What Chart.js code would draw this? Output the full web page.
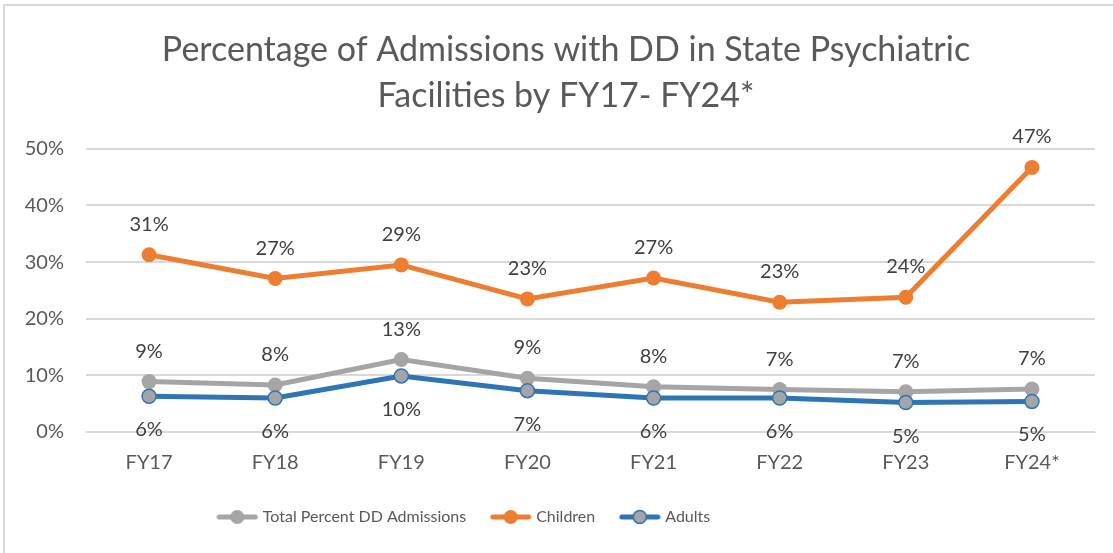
<!DOCTYPE html>
<html>
<head>
<meta charset="utf-8">
<script src="https://cdn.jsdelivr.net/npm/chart.js@4.4.0/dist/chart.umd.min.js"></script>
<style>
  html, body { margin: 0; padding: 0; background: #ffffff; }
  #wrap { width: 1113px; height: 553px; position: relative; }
</style>
</head>
<body>
<div id="wrap"><canvas id="c" width="1113" height="553"></canvas></div>
<script>
const categories = ["FY17", "FY18", "FY19", "FY20", "FY21", "FY22", "FY23", "FY24*"];
const totalValues = [8.9, 8.3, 12.8, 9.5, 8.0, 7.5, 7.1, 7.6];
const childrenValues = [31.3, 27.1, 29.5, 23.5, 27.2, 22.9, 23.8, 46.7];
const adultsValues = [6.3, 6.0, 9.9, 7.3, 6.0, 6.0, 5.2, 5.4];
const totalLabels = ["9%", "8%", "13%", "9%", "8%", "7%", "7%", "7%"];
const childrenLabels = ["31%", "27%", "29%", "23%", "27%", "23%", "24%", "47%"];
const adultsLabels = ["6%", "6%", "10%", "7%", "6%", "6%", "5%", "5%"];
const yTicks = [0, 10, 20, 30, 40, 50];

const FONT = "Lato, 'Open Sans', 'Liberation Sans', sans-serif";
const GRAY = "#a5a5a5", ORANGE = "#ed7d31", BLUE = "#2e75b6";

function legendIcon(lineColor, fill, border) {
  const cv = document.createElement("canvas");
  cv.width = 42; cv.height = 18;
  const x = cv.getContext("2d");
  x.strokeStyle = lineColor; x.lineWidth = 5; x.lineCap = "round";
  x.beginPath(); x.moveTo(3, 9); x.lineTo(39, 9); x.stroke();
  x.beginPath(); x.arc(21, 9, border ? 6.5 : 7, 0, Math.PI * 2);
  x.fillStyle = fill; x.fill();
  if (border) { x.lineWidth = 1.5; x.strokeStyle = border; x.stroke(); }
  return cv;
}
const icons = [legendIcon(GRAY, GRAY), legendIcon(ORANGE, ORANGE), legendIcon(BLUE, GRAY, BLUE)];

const labelPlugin = {
  id: "valueLabels",
  afterDatasetsDraw(chart) {
    const ctx = chart.ctx;
    ctx.save();
    ctx.font = "20px " + FONT;
    ctx.fillStyle = "#404040";
    ctx.textAlign = "center";
    ctx.textBaseline = "alphabetic";
    const sets = [[0, totalLabels, -24], [1, childrenLabels, -24], [2, adultsLabels, 40]];
    sets.forEach(([di, labs, dy]) => {
      const meta = chart.getDatasetMeta(di);
      meta.data.forEach((pt, i) => {
        ctx.fillText(labs[i], pt.x, pt.y + dy);
      });
    });
    ctx.restore();
  }
};

const shiftPlugin = {
  id: "shiftBlocks",
  afterLayout(chart) {
    if (chart.titleBlock) { chart.titleBlock.left += 16; chart.titleBlock.right += 16; }
    if (chart.legend) { chart.legend.left -= 85; chart.legend.right -= 85; }
  }
};

const framePlugin = {
  id: "frame",
  beforeDraw(chart) {
    const ctx = chart.ctx;
    ctx.save();
    ctx.fillStyle = "#ffffff";
    ctx.fillRect(0, 0, chart.width, chart.height);
    ctx.strokeStyle = "#d9d9d9";
    ctx.lineWidth = 2;
    ctx.beginPath();
    ctx.moveTo(4, chart.height);
    ctx.lineTo(4, 5);
    ctx.lineTo(chart.width, 5);
    ctx.stroke();
    ctx.restore();
  }
};

new Chart(document.getElementById("c"), {
  type: "line",
  data: {
    labels: categories,
    datasets: [
      { label: "Total Percent DD Admissions", data: totalValues, borderColor: GRAY, backgroundColor: GRAY,
        pointBackgroundColor: GRAY, pointBorderColor: GRAY, borderWidth: 5, pointRadius: 7.5, pointBorderWidth: 0, order: 3 },
      { label: "Children", data: childrenValues, borderColor: ORANGE, backgroundColor: ORANGE,
        pointBackgroundColor: ORANGE, pointBorderColor: ORANGE, borderWidth: 5, pointRadius: 7.5, pointBorderWidth: 0, order: 2 },
      { label: "Adults", data: adultsValues, borderColor: BLUE, backgroundColor: GRAY,
        pointBackgroundColor: GRAY, pointBorderColor: BLUE, borderWidth: 5, pointRadius: 7, pointBorderWidth: 1.5, order: 1 }
    ]
  },
  options: {
    responsive: false,
    animation: false,
    devicePixelRatio: 1,
    layout: { padding: { left: 5, right: 18, top: 27, bottom: 18 } },
    plugins: {
      tooltip: { enabled: false },
      title: {
        display: true,
        text: ["Percentage of Admissions with DD in State Psychiatric", "Facilities by FY17- FY24*"],
        color: "#595959",
        font: { family: FONT, size: 34, weight: "normal", lineHeight: 1.35 },
        padding: { top: 0, bottom: 30 }
      },
      legend: {
        position: "bottom",
        title: { display: true, text: " ", font: { size: 5, lineHeight: 1.2 }, padding: { top: 2, bottom: 2 } },
        labels: {
          color: "#595959",
          font: { family: FONT, size: 16 },
          usePointStyle: true,
          pointStyleWidth: 35,
          padding: 27,
          generateLabels(chart) {
            return chart.data.datasets.map((ds, i) => ({
              text: ds.label, pointStyle: icons[i], fontColor: "#595959",
              strokeStyle: "transparent", fillStyle: "transparent", lineWidth: 0, datasetIndex: i, hidden: false
            }));
          }
        }
      }
    },
    scales: {
      x: {
        offset: true,
        afterFit(scale) { scale.height = 40; },
        grid: { display: false },
        border: { display: true, color: "#d9d9d9", width: 1 },
        ticks: { color: "#595959", font: { family: FONT, size: 20 }, padding: 11 }
      },
      y: {
        min: 0, max: 50,
        afterFit(scale) { scale.width = 81; },
        afterBuildTicks(scale) { scale.ticks = yTicks.map(v => ({ value: v })); },
        grid: { color: "#d9d9d9", lineWidth: 2, drawTicks: false },
        border: { display: false },
        ticks: { color: "#595959", font: { family: FONT, size: 20 }, padding: 22, callback: v => v + "%" }
      }
    }
  },
  plugins: [framePlugin, shiftPlugin, labelPlugin]
});
</script>
</body>
</html>
